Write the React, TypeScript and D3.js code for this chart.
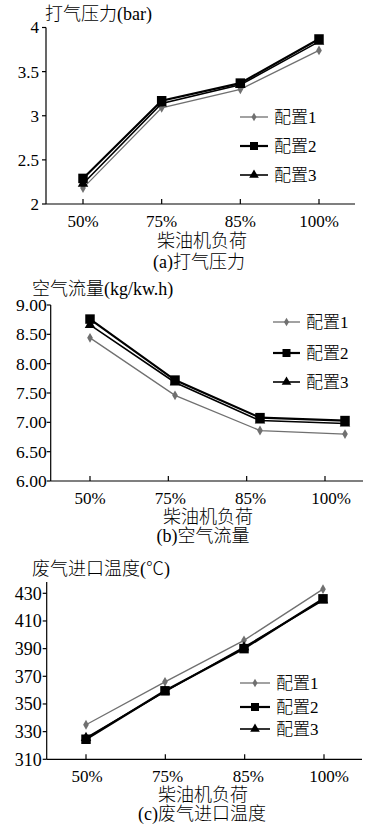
import React from "react";
import * as d3 from "d3";

// categories and series
const categories = ["50%", "75%", "85%", "100%"];
const seriesNames = ["配置1", "配置2", "配置3"];

// (a) 打气压力 (bar)
const pressure1 = [2.18, 3.09, 3.3, 3.74];
const pressure2 = [2.29, 3.17, 3.37, 3.87];
const pressure3 = [2.23, 3.14, 3.35, 3.84];
const pressureTicks = [2, 2.5, 3, 3.5, 4];

// (b) 空气流量 (kg/kw.h)
const airflow1 = [8.44, 7.46, 6.86, 6.8];
const airflow2 = [8.76, 7.72, 7.08, 7.03];
const airflow3 = [8.66, 7.68, 7.03, 6.98];
const airflowTicks = [6, 6.5, 7, 7.5, 8, 8.5, 9];

// (c) 废气进口温度 (℃)
const temp1 = [335, 366, 396, 433];
const temp2 = [324.5, 359.5, 390, 426];
const temp3 = [325.5, 359, 391, 425];
const tempTicks = [310, 330, 350, 370, 390, 410, 430];

const xTitle = "柴油机负荷";

const SERIF = "'Liberation Serif', 'Times New Roman', 'DejaVu Serif', serif";
const CJK = "'Noto Sans CJK SC', sans-serif";
const isCjk = /[\u4e00-\u9fff℃]/;

const styles = [
  { stroke: "#707070", width: 1.3, symbol: d3.symbolDiamond, size: 28, legendSize: 22 },
  { stroke: "#000", width: 2.2, symbol: d3.symbolSquare, size: 90, legendSize: 64 },
  { stroke: "#000", width: 1.6, symbol: d3.symbolTriangle, size: 48, legendSize: 40 },
];

// CJK / latin runs get their own font
const runs = (text) =>
  text
    .split(/([\u4e00-\u9fff℃]+)/)
    .filter((s) => s.length)
    .map((p, i) => (
      <tspan
        key={i}
        style={{ fontFamily: isCjk.test(p) ? CJK : SERIF, fontWeight: isCjk.test(p) ? 300 : 400 }}
      >
        {p}
      </tspan>
    ));

const Mixed = ({ text, ...props }) => <text {...props}>{runs(text)}</text>;

const Panel = ({ cfg }) => {
  const y = d3.scaleLinear().domain(cfg.domain).range([cfg.bottom, cfg.top]);
  const xTick = d3.scalePoint().domain(categories).range(cfg.tickRange);
  const xMark = d3.scalePoint().domain(categories).range(cfg.markRange);
  const xLabel = d3.scalePoint().domain(categories).range(cfg.labelRange);
  const line = d3
    .line()
    .x((d, i) => xMark(categories[i]))
    .y((d) => y(d));
  const series = [cfg.s1, cfg.s2, cfg.s3];

  return (
    <g>
      <Mixed text={cfg.title} x={cfg.titleX} y={cfg.titleY} fontSize={18} />

      {/* axes */}
      <line x1={cfg.left} x2={cfg.left} y1={cfg.axisTop} y2={cfg.bottom} stroke="#000" strokeWidth={1.2} />
      <line x1={cfg.left} x2={cfg.right} y1={cfg.bottom} y2={cfg.bottom} stroke="#000" strokeWidth={1.2} />
      {cfg.ticks.map((t) => (
        <g key={t}>
          <line x1={cfg.left - 4} x2={cfg.left} y1={y(t)} y2={y(t)} stroke="#000" strokeWidth={1.2} />
          <text
            x={cfg.left - cfg.labelGap}
            y={y(t)}
            dy="0.35em"
            textAnchor="end"
            fontSize={cfg.tickFont}
            style={{ fontFamily: SERIF }}
          >
            {cfg.fmt(t)}
          </text>
        </g>
      ))}
      {categories.map((c) => (
        <g key={c}>
          <line x1={xTick(c)} x2={xTick(c)} y1={cfg.bottom} y2={cfg.bottom - 5} stroke="#000" strokeWidth={1.2} />
          <text x={xLabel(c)} y={cfg.bottom + 23} textAnchor="middle" fontSize={17} style={{ fontFamily: SERIF }}>
            {c}
          </text>
        </g>
      ))}

      {/* x title and caption, two lines of one text */}
      <text y={cfg.bottom + cfg.xTitleDy} textAnchor="middle" fontSize={18}>
        <tspan x={cfg.midX}>{runs(xTitle)}</tspan>
        <tspan x={cfg.captionX} dy={cfg.captionDy - cfg.xTitleDy}>
          {runs(cfg.caption)}
        </tspan>
      </text>

      {/* series */}
      {series.map((vals, si) => (
        <g key={si}>
          <path d={line(vals)} fill="none" stroke={styles[si].stroke} strokeWidth={styles[si].width} />
          {vals.map((v, i) => (
            <path
              key={i}
              d={d3.symbol().type(styles[si].symbol).size(styles[si].size)()}
              transform={`translate(${xMark(categories[i])},${y(v)})`}
              fill={styles[si].stroke}
            />
          ))}
        </g>
      ))}

      {/* legend */}
      {seriesNames.map((name, si) => {
        const ly = cfg.legendY[si];
        return (
          <g key={name}>
            <line
              x1={cfg.legendX}
              x2={cfg.legendX + cfg.legendW}
              y1={ly}
              y2={ly}
              stroke={styles[si].stroke}
              strokeWidth={styles[si].width}
            />
            <path
              d={d3.symbol().type(styles[si].symbol).size(styles[si].legendSize)()}
              transform={`translate(${cfg.legendX + cfg.legendW / 2},${ly})`}
              fill={styles[si].stroke}
            />
            <Mixed text={name} x={cfg.legendX + cfg.legendW + 6} y={ly} dy="0.36em" fontSize={17} />
          </g>
        );
      })}
    </g>
  );
};

const panels = [
  {
    title: "打气压力(bar)",
    titleX: 45,
    titleY: 20,
    caption: "(a)打气压力",
    captionX: 199,
    left: 46,
    right: 355,
    top: 27.5,
    axisTop: 27.5,
    bottom: 204,
    domain: [2, 4],
    ticks: pressureTicks,
    fmt: (t) => String(t),
    tickFont: 17,
    labelGap: 7,
    tickRange: [83, 319],
    markRange: [83, 319],
    labelRange: [83, 319],
    midX: 202,
    xTitleDy: 43,
    captionDy: 64,
    s1: pressure1,
    s2: pressure2,
    s3: pressure3,
    legendX: 240,
    legendW: 28,
    legendY: [117, 146, 175],
  },
  {
    title: "空气流量(kg/kw.h)",
    titleX: 32,
    titleY: 295,
    caption: "(b)空气流量",
    captionX: 203,
    left: 50.7,
    right: 363,
    top: 305,
    axisTop: 305,
    bottom: 481,
    domain: [6, 9],
    ticks: airflowTicks,
    fmt: d3.format(".2f"),
    tickFont: 17.5,
    labelGap: 4,
    tickRange: [90, 325],
    markRange: [90, 345],
    labelRange: [90, 331],
    midX: 208,
    xTitleDy: 42,
    captionDy: 61,
    s1: airflow1,
    s2: airflow2,
    s3: airflow3,
    legendX: 273,
    legendW: 27,
    legendY: [322, 353, 382],
  },
  {
    title: "废气进口温度(℃)",
    titleX: 32,
    titleY: 575,
    caption: "(c)废气进口温度",
    captionX: 202,
    left: 46.7,
    right: 362,
    top: 593.3,
    axisTop: 582,
    bottom: 759.3,
    domain: [310, 430],
    ticks: tempTicks,
    fmt: (t) => String(t),
    tickFont: 18,
    labelGap: 5,
    tickRange: [86, 324],
    markRange: [86, 323],
    labelRange: [87, 329],
    midX: 203,
    xTitleDy: 42,
    captionDy: 61,
    s1: temp1,
    s2: temp2,
    s3: temp3,
    legendX: 240,
    legendW: 30,
    legendY: [683, 707, 729],
  },
];

export default function App() {
  return (
    <svg
      width={388}
      height={827}
      style={{ position: "absolute", left: 0, top: 0, background: "#fff" }}
    >
      {panels.map((p, i) => (
        <Panel key={i} cfg={p} />
      ))}
    </svg>
  );
}
